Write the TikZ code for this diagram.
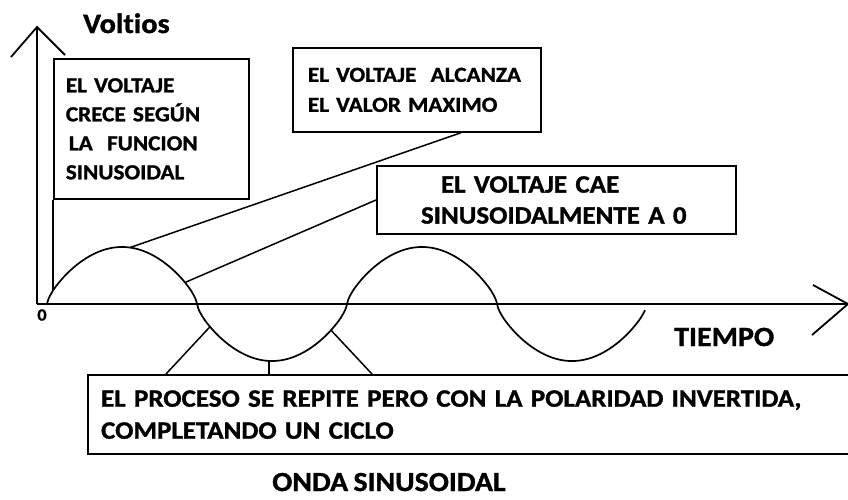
\documentclass[tikz,border=0pt]{standalone}
\usepackage{fontspec}
\setmainfont{Carlito}[FakeStretch=1.08, Ligatures=NoCommon, WordSpace=0.8, BoldFeatures={FakeBold=1.2}]
\usetikzlibrary{calc}
\begin{document}
\begin{tikzpicture}[x=1pt,y=-1pt,
  declare function={wave(\t)=304-57*sign(sin(1.2*(\t-47)))*pow(abs(sin(1.2*(\t-47)))+0.0001,0.7);},
  axis/.style={line width=1.8pt, line join=miter},
  wavestyle/.style={line width=1.7pt},
  conn/.style={line width=1.5pt},
  box/.style={draw, line width=1.7pt, inner ysep=0pt, anchor=north west, align=left},
  lbl/.style={anchor=base west, inner sep=0pt}]
\useasboundingbox (0,0) rectangle (848,499);
\clip (0,0) rectangle (848,499);
% axes
\coordinate (O) at (37,304);
\coordinate (ytop) at (37,27);
\coordinate (yl) at (11,57);
\coordinate (yr) at (65,55);
\coordinate (xend) at (848,304);
\coordinate (xu) at (813,285);
\coordinate (xd) at (812,335);
\draw[axis] (O) -- (ytop);
\draw[axis] (yl) -- (ytop) -- (yr);
\draw[axis] (O) -- (xend);
\draw[axis] (xu) -- (xend) -- (xd);
% wave
\draw[wavestyle] plot[domain=47:645, samples=400, smooth] (\x,{wave(\x)});
% points on wave
\coordinate (c1) at (53,{wave(53)});
\coordinate (c2) at (130,{wave(130)});
\coordinate (c3) at (185,{wave(185)});
\coordinate (c4) at (210,{wave(210)});
\coordinate (c5) at (269,{wave(269)});
\coordinate (c6) at (331,{wave(331)});
% boxes
\node[box, inner xsep=12pt, text width=171pt, minimum height=140pt,
      font=\fontsize{21.5}{29}\selectfont\bfseries] (b1) at (53,58)
  {EL~VOLTAJE\\CRECE~SEGÚN\\\hspace*{3pt}LA~~FUNCION\\SINUSOIDAL};
\node[box, inner xsep=15pt, text width=218pt, minimum height=84pt,
      font=\fontsize{21.5}{30}\selectfont\bfseries] (b2) at (292,47)
  {EL~VOLTAJE~~ALCANZA\\EL~VALOR~MAXIMO};
\node[box, line width=2pt, inner xsep=44pt, text width=271pt, minimum height=68pt,
      font=\fontsize{25}{31}\selectfont\bfseries] (b3) at (376,165)
  {\hspace*{20pt}EL~VOLTAJE~CAE\\SINUSOIDALMENTE~A~0};
\node[box, line width=2.2pt, inner xsep=13pt, text width=760pt, minimum height=79pt,
      font=\fontsize{25}{32}\selectfont\bfseries] (b4) at (87,374)
  {EL~PROCESO~SE~REPITE~PERO~CON~LA~POLARIDAD~INVERTIDA,\\COMPLETANDO~UN~CICLO};
% connectors
\draw[conn] (b1.south west) -- (c1);
\draw[conn] ($(b2.south west)!0.677!(b2.south east)$) -- (c2);
\draw[conn] (b3.west) -- (c3);
\draw[conn] ($(b4.north west)+(79,0)$) -- (c4);
\draw[conn] ($(b4.north west)+(182,0)$) -- (c5);
\draw[conn] ($(b4.north west)+(285,0)$) -- (c6);
% labels
\node[lbl, font=\fontsize{28}{28}\selectfont\bfseries] (volt) at (83,33) {Voltios};
\node[inner sep=0pt, font=\fontsize{17}{17}\selectfont\bfseries] (zero) at (42,315) {0};
\node[lbl, font=\fontsize{27.8}{28}\selectfont\bfseries] (tiempo) at (674,346) {TIEMPO};
\node[lbl, font=\fontsize{27.6}{28}\selectfont\bfseries] (onda) at (272,491) {ONDA~SINUSOIDAL};
\end{tikzpicture}
\end{document}
